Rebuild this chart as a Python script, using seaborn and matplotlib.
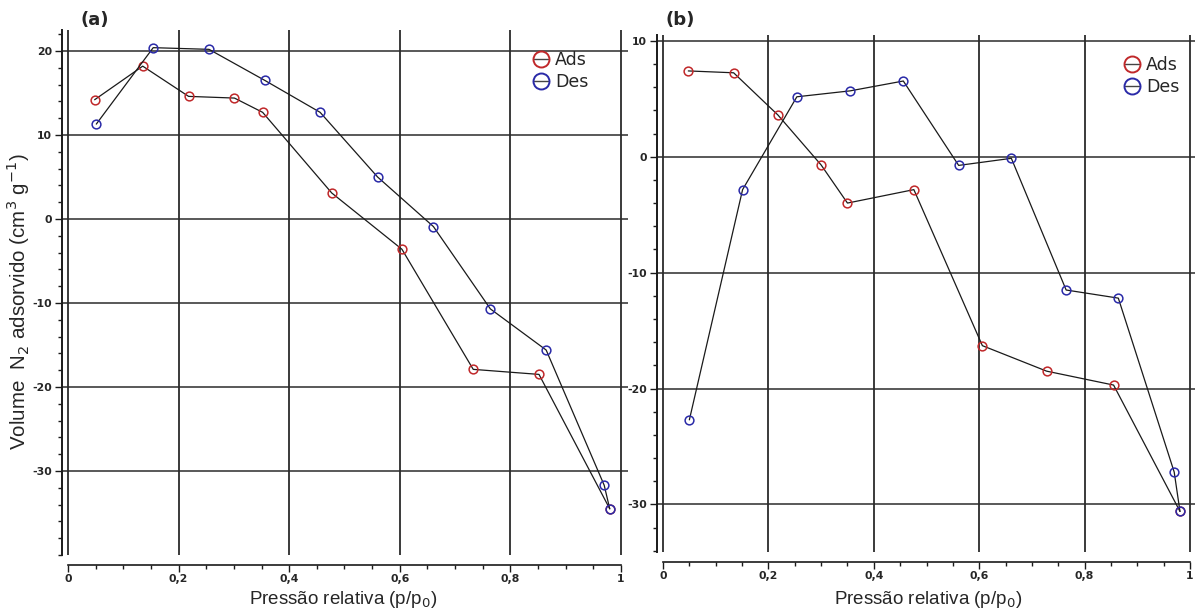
import matplotlib
matplotlib.use("Agg")
import matplotlib.pyplot as plt
import seaborn as sns
import pandas as pd
from matplotlib.lines import Line2D
from matplotlib.ticker import MultipleLocator, FuncFormatter

# ---------------- data ----------------
a_ads_x = [0.048, 0.135, 0.218, 0.301, 0.352, 0.477, 0.604, 0.733, 0.852, 0.980]
a_ads_y = [14.2, 18.2, 14.6, 14.4, 12.7, 3.1, -3.6, -17.9, -18.5, -34.5]
a_des_x = [0.051, 0.154, 0.255, 0.356, 0.456, 0.560, 0.661, 0.764, 0.865, 0.970, 0.980]
a_des_y = [11.3, 20.4, 20.2, 16.5, 12.7, 5.0, -0.9, -10.7, -15.6, -31.7, -34.5]

b_ads_x = [0.048, 0.134, 0.218, 0.300, 0.350, 0.476, 0.606, 0.728, 0.855, 0.981]
b_ads_y = [7.4, 7.24, 3.6, -0.71, -4.0, -2.84, -16.3, -18.5, -19.7, -30.6]
b_des_x = [0.050, 0.151, 0.254, 0.355, 0.456, 0.561, 0.661, 0.765, 0.864, 0.970, 0.981]
b_des_y = [-22.7, -2.84, 5.17, 5.68, 6.53, -0.75, -0.14, -11.5, -12.2, -27.2, -30.6]

series_names = ["Ads", "Des"]
xticks = [0, 0.2, 0.4, 0.6, 0.8, 1]
a_yticks = [-30, -20, -10, 0, 10, 20]
b_yticks = [-30, -20, -10, 0, 10]

RED = "#c0282a"
BLUE = "#2a2aa8"
GRID = "#2b2b2b"

sns.set_theme(style="white")
plt.rcParams["font.family"] = ["DejaVu Sans"]
plt.rcParams["axes.unicode_minus"] = False

fig = plt.figure(figsize=(11.95, 6.14), dpi=100)
ax_a = fig.add_axes([0.0519, 0.0961, 0.4736, 0.855])
ax_b = fig.add_axes([0.5498, 0.101, 0.4502, 0.842])


def fmt_x(v, pos):
    if abs(v) < 1e-9:
        return "0"
    if abs(v - 1) < 1e-9:
        return "1"
    return ("%.1f" % v).replace(".", ",")


def draw(ax, ads_x, ads_y, des_x, des_y, xlim, ylim, yticks):
    df = pd.concat([
        pd.DataFrame({"x": ads_x, "y": ads_y, "s": series_names[0]}),
        pd.DataFrame({"x": des_x, "y": des_y, "s": series_names[1]}),
    ])
    for name, col in zip(series_names, [RED, BLUE]):
        sub = df[df["s"] == name]
        sns.lineplot(data=sub, x="x", y="y", ax=ax, sort=False, estimator=None,
                     color="#1a1a1a", lw=0.9, marker="o", markersize=6.3,
                     markerfacecolor="none", markeredgecolor=col,
                     markeredgewidth=1.1, zorder=4)
    ax.set_xlim(*xlim)
    ax.set_ylim(*ylim)
    ax.set_xticks(xticks)
    ax.set_yticks(yticks)
    ax.xaxis.set_minor_locator(MultipleLocator(0.05))
    ax.yaxis.set_minor_locator(MultipleLocator(2))
    ax.xaxis.set_major_formatter(FuncFormatter(fmt_x))
    ax.yaxis.set_major_formatter(FuncFormatter(lambda v, p: "%d" % v))
    for v in xticks:
        ax.axvline(v, color=GRID, lw=1.3, zorder=1)
    for v in yticks:
        ax.axhline(v, color=GRID, lw=1.1, zorder=1)
    for s in ["top", "right"]:
        ax.spines[s].set_visible(False)
    ax.spines["left"].set_color("#1a1a1a")
    ax.spines["left"].set_linewidth(1.4)
    ax.spines["bottom"].set_color("#1a1a1a")
    ax.spines["bottom"].set_linewidth(1.2)
    ax.spines["bottom"].set_position(("outward", 7))
    ax.spines["bottom"].set_bounds(0, 1)
    ax.tick_params(axis="both", which="both", bottom=True, left=True,
                   top=False, right=False)
    ax.tick_params(axis="both", which="major", direction="out", length=5,
                   width=1, color="#1a1a1a", labelsize=7.8, pad=2)
    ax.tick_params(axis="both", which="minor", direction="out", length=3,
                   width=1, color="#1a1a1a")
    for lab in ax.get_xticklabels() + ax.get_yticklabels():
        lab.set_fontweight("bold")
    ax.set_xlabel("")
    ax.set_ylabel("")
    handles = [Line2D([], [], color="#444444", lw=1.0, marker="o", markersize=11.5,
                      markerfacecolor="none", markeredgecolor=c, markeredgewidth=1.4)
               for c in [RED, BLUE]]
    return handles


h = draw(ax_a, a_ads_x, a_ads_y, a_des_x, a_des_y, (-0.011, 1.013), (-40, 22.5), a_yticks)
ax_a.legend(h, series_names, loc="upper left", bbox_to_anchor=(0.805, 0.99),
            frameon=False, fontsize=12.5, handlelength=0.9, handletextpad=0.35,
            labelspacing=0.25)

draw(ax_b, b_ads_x, b_ads_y, b_des_x, b_des_y, (-0.0114, 1.0095), (-34.1, 10.5), b_yticks)
ax_b.legend(h, series_names, loc="upper left", bbox_to_anchor=(0.84, 0.99),
            frameon=False, fontsize=12.5, handlelength=0.9, handletextpad=0.35,
            labelspacing=0.25)

xlab = "Pressão relativa (p/p$_0$)"
fig.text(343 / 1195, 1 - 600 / 614, xlab, family="Liberation Sans", fontsize=13.5,
         ha="center", va="center")
fig.text(928 / 1195, 1 - 600 / 614, xlab, family="Liberation Sans", fontsize=13.5,
         ha="center", va="center")
fig.text(18 / 1195, 1 - 302 / 614, "Volume  N$_2$ adsorvido (cm$^3$ g$^{-1}$)",
         family="Liberation Sans", fontsize=14.8, rotation=90,
         ha="center", va="center")

fig.text(0.067, 0.968, "(a)", fontsize=13, fontweight="bold", va="center")
fig.text(0.557, 0.968, "(b)", fontsize=13, fontweight="bold", va="center")

fig.savefig("out.png", dpi=100)
